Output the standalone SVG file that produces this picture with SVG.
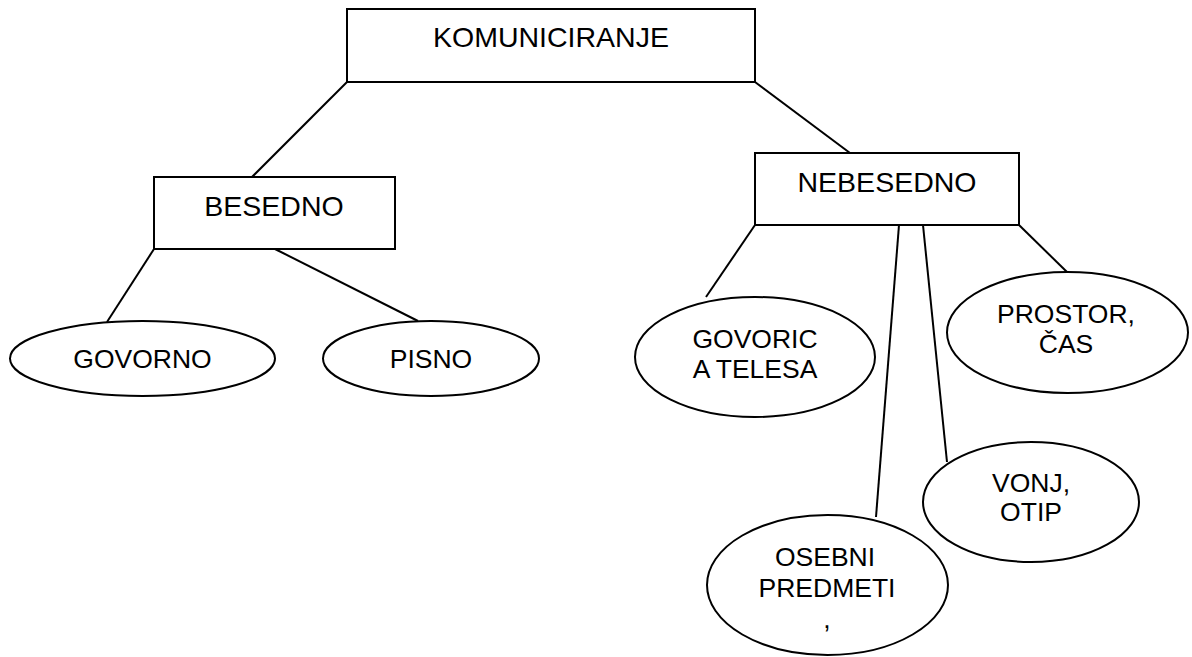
<svg xmlns="http://www.w3.org/2000/svg" width="1192" height="657" viewBox="0 0 1192 657">
<style>
.box{fill:#fff;stroke:#000;stroke-width:2}
.ell{fill:#fff;stroke:#000;stroke-width:2}
.ln{stroke:#000;stroke-width:2;fill:none}
.bt{font-family:"Liberation Sans",Arial,sans-serif;font-size:28.5px;fill:#000;text-anchor:middle}
.et{font-family:"Liberation Sans",Arial,sans-serif;font-size:26.5px;fill:#000;text-anchor:middle}
</style>
<rect width="1192" height="657" fill="#fff"/>
<g id="connectors">
<line class="ln" x1="347" y1="82" x2="252" y2="177"/>
<line class="ln" x1="755" y1="82" x2="850" y2="153"/>
<line class="ln" x1="154" y1="249" x2="107" y2="322"/>
<line class="ln" x1="275" y1="249" x2="418" y2="321"/>
<line class="ln" x1="755" y1="225" x2="706" y2="297"/>
<line class="ln" x1="899" y1="225" x2="876" y2="517"/>
<line class="ln" x1="923" y1="225" x2="947" y2="462"/>
<line class="ln" x1="1019" y1="225" x2="1067" y2="272"/>
</g>
<g id="komuniciranje">
<rect class="box" x="347" y="9" width="408" height="73"/>
<text class="bt" x="551" y="47">KOMUNICIRANJE</text>
</g>
<g id="besedno">
<rect class="box" x="154" y="177" width="241" height="72"/>
<text class="bt" x="274" y="216">BESEDNO</text>
</g>
<g id="nebesedno">
<rect class="box" x="755" y="153" width="264" height="72"/>
<text class="bt" x="887" y="192">NEBESEDNO</text>
</g>
<g id="govorno">
<ellipse class="ell" cx="142.5" cy="358.5" rx="132.5" ry="37.5"/>
<text class="et" x="142.5" y="368">GOVORNO</text>
</g>
<g id="pisno">
<ellipse class="ell" cx="431" cy="358.5" rx="108" ry="37.5"/>
<text class="et" x="431" y="368">PISNO</text>
</g>
<g id="govorica-telesa">
<ellipse class="ell" cx="755" cy="357" rx="120" ry="60"/>
<text class="et" x="755" y="348">GOVORIC</text>
<text class="et" x="755" y="378">A TELESA</text>
</g>
<g id="prostor-cas">
<ellipse class="ell" cx="1067.5" cy="332.5" rx="120.5" ry="60.5"/>
<text class="et" x="1066" y="323">PROSTOR,</text>
<text class="et" x="1066" y="353">ČAS</text>
</g>
<g id="vonj-otip">
<ellipse class="ell" cx="1031" cy="502" rx="108" ry="60"/>
<text class="et" x="1031" y="492">VONJ,</text>
<text class="et" x="1031" y="521">OTIP</text>
</g>
<g id="osebni-predmeti">
<ellipse class="ell" cx="827.5" cy="585" rx="120.5" ry="70"/>
<text class="et" x="825" y="566">OSEBNI</text>
<text class="et" x="827" y="597">PREDMETI</text>
<text class="et" x="827" y="628">,</text>
</g>
</svg>
